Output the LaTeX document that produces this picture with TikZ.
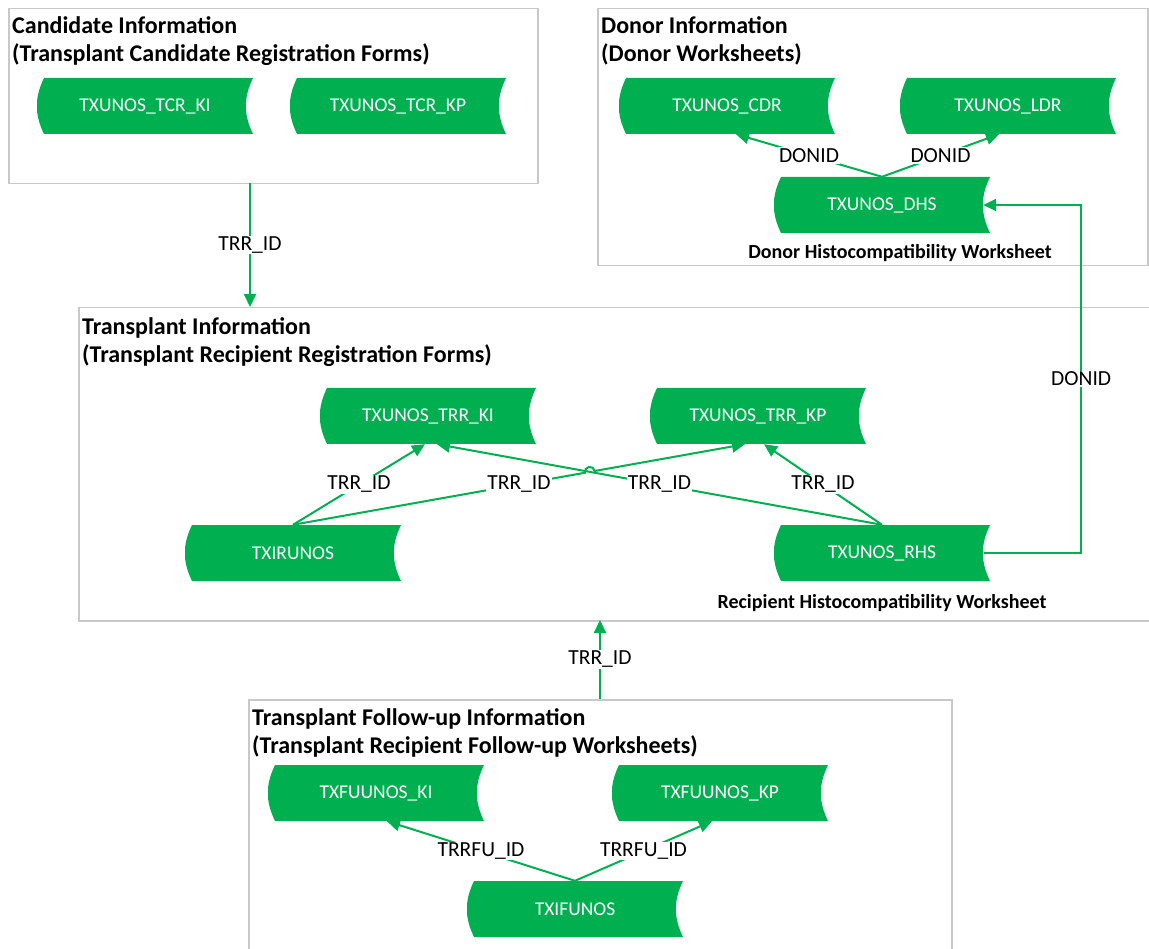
\documentclass[tikz,border=0pt]{standalone}
\usepackage{fontspec}
\setmainfont{Carlito}
\usetikzlibrary{arrows.meta,calc,intersections}

\definecolor{tblgreen}{HTML}{00B050}
\definecolor{grpgray}{HTML}{C8C8C8}

\tikzset{
  grp/.style={draw=grpgray, line width=1.5pt, anchor=north west, inner sep=0pt},
  grptitle/.style={anchor=north west, inner sep=0pt, align=left,
    font=\fontsize{24}{28.4}\selectfont\bfseries},
  store/.style={minimum width=216pt, minimum height=56pt, inner sep=0pt, text=white,
    font=\fontsize{19.5}{20}\selectfont,
    path picture={\fill[tblgreen]
      ($(path picture bounding box.north west)+(7pt,0)$) -- (path picture bounding box.north east)
      to[bend right=26] (path picture bounding box.south east)
      -- ($(path picture bounding box.south west)+(7pt,0)$)
      to[bend left=26] ($(path picture bounding box.north west)+(7pt,0)$) -- cycle;}},
  link/.style={draw=tblgreen, line width=2pt, -{Triangle[length=13pt,width=12pt]}},
  lbl/.style={fill=white, inner sep=1pt, font=\fontsize{21.5}{22}\selectfont},
  caption/.style={font=\fontsize{20}{22}\selectfont\bfseries}
}

\begin{document}
\begin{tikzpicture}[x=1pt,y=-1pt]
  \useasboundingbox (0,0) rectangle (1149,949);

  % Draw the group boxes
  \node[grp, minimum width=529pt, minimum height=175pt] (cand) at (8,8) {};
  \node[grp, minimum width=550pt, minimum height=257pt] (donor) at (597,8) {};
  \node[grp, minimum width=1100pt, minimum height=313pt] (trans) at (78,307) {};
  \node[grp, minimum width=703pt, minimum height=270pt] (fu) at (248,699) {};

  % Group titles
  \node[grptitle] (candtitle) at (12,16) {Candidate Information\\(Transplant Candidate Registration Forms)};
  \node[grptitle] (donortitle) at (601,16) {Donor Information\\(Donor Worksheets)};
  \node[grptitle] (transtitle) at (82,317) {Transplant Information\\(Transplant Recipient Registration Forms)};
  \node[grptitle] (futitle) at (252,708) {Transplant Follow-up Information\\(Transplant Recipient Follow-up Worksheets)};

  % Tables
  \node[store] (tcrki) at (145,106) {TXUNOS\_TCR\_KI};
  \node[store] (tcrkp) at (398,106) {TXUNOS\_TCR\_KP};
  \node[store] (cdr) at (727,106) {TXUNOS\_CDR};
  \node[store] (ldr) at (1008,106) {TXUNOS\_LDR};
  \node[store] (dhs) at (882,205) {TXUNOS\_DHS};
  \node[store] (trrki) at (428,416) {TXUNOS\_TRR\_KI};
  \node[store] (trrkp) at (758,416) {TXUNOS\_TRR\_KP};
  \node[store] (txir) at (293,553) {TXIRUNOS};
  \node[store] (rhs) at (882,553) {TXUNOS\_RHS};
  \node[store] (fuki) at (376,793) {TXFUUNOS\_KI};
  \node[store] (fukp) at (720,793) {TXFUUNOS\_KP};
  \node[store] (txif) at (575,909) {TXIFUNOS};

  \node[caption] (dhscap) at (900,253) {Donor Histocompatibility Worksheet};
  \node[caption] (rhscap) at (882,603) {Recipient Histocompatibility Worksheet};

  % Links between the groups
  \coordinate (candout) at (250,183);
  \coordinate (transin) at (250,307);
  \draw[link] (candout) -- node[lbl] (lk1) {TRR\_ID} (transin);
  \coordinate (fuout) at (600,699);
  \coordinate (transout) at (600,620);
  \draw[link] (fuout) -- node[lbl] (lk2) {TRR\_ID} (transout);

  % Donor links
  \draw[link] (dhs.north) -- node[lbl] (lk3) {DONID} ([xshift=9pt]cdr.south);
  \draw[link] (dhs.north) -- node[lbl] (lk4) {DONID} ([xshift=-9pt]ldr.south);
  \draw[link] ([xshift=-6pt]rhs.east) -- ++(97,0) |- node[lbl, pos=0.25] (lk5) {DONID} ([xshift=-7pt]dhs.east);

  % Transplant links
  \draw[link] (txir.north) -- node[lbl] (lk6) {TRR\_ID} ([xshift=-3pt]trrki.south);
  \draw[link] (rhs.north) -- node[lbl] (lk7) {TRR\_ID} ([xshift=6pt]trrkp.south);
  \draw[link, name path=kiline] (rhs.north) -- node[lbl] (lk8) {TRR\_ID} ([xshift=9pt]trrki.south);
  \path[name path=kpline] (txir.north) -- ([xshift=-13pt]trrkp.south);
  \path[name intersections={of=kiline and kpline, by=hop}];
  \draw[link] (txir.north) -- ($(hop)!5pt!(txir.north)$)
    arc[start angle=190.2, end angle=10.2, radius=5pt] -- ([xshift=-13pt]trrkp.south);
  \node[lbl] (lk9) at ($(txir.north)!0.5!([xshift=-13pt]trrkp.south)$) {TRR\_ID};

  % Follow-up links
  \draw[link] (txif.north) -- node[lbl] (lk10) {TRRFU\_ID} ([xshift=11pt]fuki.south);
  \draw[link] (txif.north) -- node[lbl] (lk11) {TRRFU\_ID} ([xshift=-8pt]fukp.south);
\end{tikzpicture}
\end{document}
